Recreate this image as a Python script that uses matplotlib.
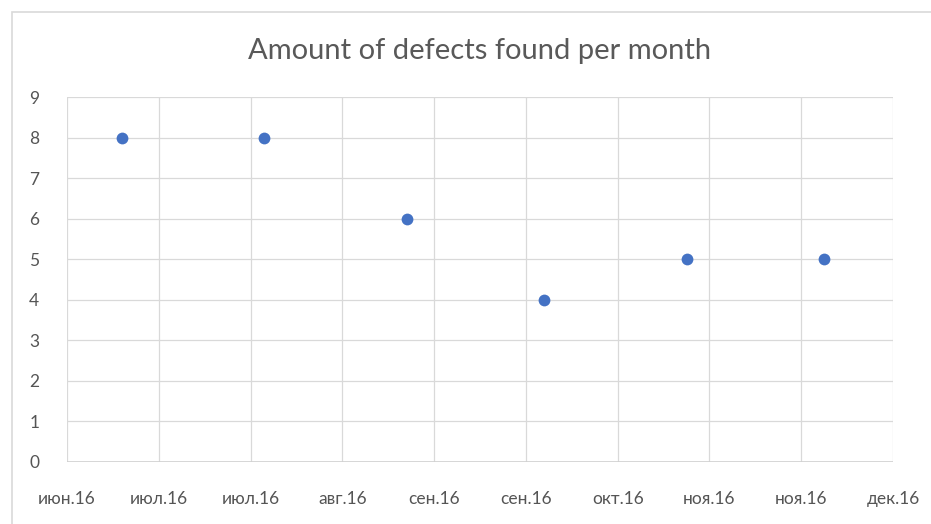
import matplotlib
matplotlib.use("Agg")
import matplotlib.pyplot as plt
import matplotlib.dates as mdates
from matplotlib.patches import Rectangle
import datetime as dt

plt.rcParams['font.family'] = ['Lato', 'DejaVu Sans']

# Data
dates = [dt.date(2016, 6, 30), dt.date(2016, 7, 31), dt.date(2016, 8, 31),
         dt.date(2016, 9, 30), dt.date(2016, 10, 31), dt.date(2016, 11, 30)]
defects = [8, 8, 6, 4, 5, 5]
axis_start = dt.date(2016, 6, 18)
tick_step_days = 20
tick_labels = ["июн.16", "июл.16", "июл.16", "авг.16", "сен.16",
               "сен.16", "окт.16", "ноя.16", "ноя.16", "дек.16"]
y_ticks = list(range(0, 10))
title = "Amount of defects found per month"

W, H = 931, 524
fig = plt.figure(figsize=(W / 100, H / 100), dpi=100)
ax = fig.add_axes([67 / W, 1 - 462 / H, (893 - 67) / W, (462 - 97) / H])

# Chart frame (Excel-like)
fig.patches.append(Rectangle((12 / W, -0.1), 1.2, 1 - 12 / H + 0.1,
                             transform=fig.transFigure, fill=False,
                             edgecolor="#d9d9d9", linewidth=1.2, clip_on=False))

tick_dates = [axis_start + dt.timedelta(days=tick_step_days * i) for i in range(len(tick_labels))]
tick_nums = mdates.date2num(tick_dates)

ax.scatter(mdates.date2num(dates), defects, s=72, color="#4472C4", zorder=3,
           linewidths=0)

ax.set_xlim(tick_nums[0], tick_nums[-1])
ax.set_ylim(0, 9)
ax.set_xticks(tick_nums)
ax.set_xticklabels(tick_labels)
ax.set_yticks(y_ticks)

for s in ax.spines.values():
    s.set_visible(False)
ax.grid(True, color="#d9d9d9", linewidth=0.9)
ax.set_axisbelow(True)
ax.axhline(0, color="#d0d0d0", linewidth=1.2, zorder=1)
ax.tick_params(axis='both', length=0, labelsize=12.5, labelcolor="#555555")
ax.tick_params(axis='x', pad=21)
ax.tick_params(axis='y', pad=20)

fig.text((67 + 893) / 2 / W, 1 - 51 / H, title, ha='center', va='center',
         fontsize=21, color="#595959")

fig.savefig("out.png", dpi=100)
